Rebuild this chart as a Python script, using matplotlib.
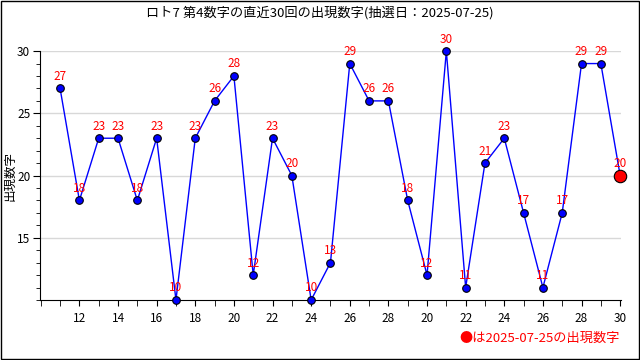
import matplotlib
matplotlib.use('Agg')
import matplotlib.pyplot as plt
from matplotlib.patches import Rectangle
from matplotlib.ticker import MultipleLocator

plt.rcParams['font.family'] = ['Noto Sans CJK JP', 'DejaVu Sans']

draws = list(range(1, 31))
numbers = [27, 18, 23, 23, 18, 23, 10, 23, 26, 28, 12, 23, 20, 10, 13,
           29, 26, 26, 18, 12, 30, 11, 21, 23, 17, 11, 17, 29, 29, 20]
tick_pos = list(range(2, 31, 2))
tick_labels = ['12', '14', '16', '18', '20', '22', '24', '26', '28',
               '20', '22', '24', '26', '28', '30']
title = 'ロト7 第4数字の直近30回の出現数字(抽選日：2025-07-25)'
note = '●は2025-07-25の出現数字'

fig = plt.figure(figsize=(6.4, 3.6), dpi=100)
ax = fig.add_axes([0.0625, 0.1667, 0.908, 0.6913])

ax.plot(draws, numbers, color='#0000ff', lw=1, zorder=2)
ax.scatter(draws[:-1], numbers[:-1], s=30, color='#0000ff',
           edgecolors='black', linewidths=0.8, zorder=3, clip_on=False)
ax.scatter(draws[-1:], numbers[-1:], s=80, color='#ff0000',
           edgecolors='black', linewidths=0.8, zorder=4, clip_on=False)
for x, y in zip(draws, numbers):
    ax.annotate(str(y), (x, y), xytext=(0, 4), textcoords='offset points',
                ha='center', va='bottom', color='#ff0000', fontsize=8.5)

ax.set_xlim(-0.04, 30.05)
ax.set_ylim(10, 30)
ax.set_xticks(tick_pos)
ax.set_xticklabels(tick_labels)
ax.xaxis.set_minor_locator(MultipleLocator(1))
ax.set_yticks([15, 20, 25, 30])
ax.yaxis.set_minor_locator(MultipleLocator(1))
ax.tick_params(axis='both', which='both', direction='out', labelsize=8.5,
               colors='black')
ax.tick_params(axis='x', which='both', length=4, pad=5)
ax.tick_params(axis='y', which='major', length=5, pad=2)
ax.tick_params(axis='y', which='minor', length=3)
ax.grid(axis='y', color='#d8d8d8', lw=1)
ax.set_axisbelow(True)
for s in ['top', 'right']:
    ax.spines[s].set_visible(False)

fig.text(0.016, 0.51, '出現数字', rotation=90, ha='center', va='center',
         fontsize=9)
fig.text(0.5, 0.965, title, ha='center', va='center', fontsize=9.5)
fig.text(0.968, 0.06, note, ha='right', va='center', color='#ff0000',
         fontsize=9.5)
fig.patches.append(Rectangle((0.001, 0.002), 0.997, 0.996,
                             transform=fig.transFigure, fill=False,
                             edgecolor='black', lw=1))

fig.savefig('out.png', dpi=100)
